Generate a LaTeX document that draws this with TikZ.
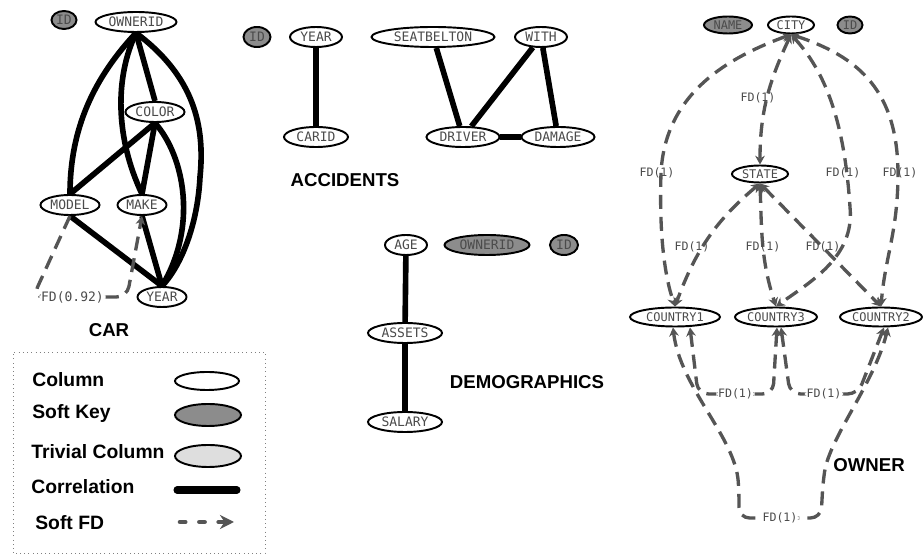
\documentclass[tikz,border=0pt]{standalone}
\usepackage{fontspec}
\setsansfont{Liberation Sans}
\newfontfamily\colfont{DejaVu Sans Mono}
\usetikzlibrary{shapes.geometric,arrows.meta}

\definecolor{keygray}{RGB}{140,140,140}
\definecolor{trivgray}{RGB}{222,222,222}
\definecolor{fdgray}{RGB}{85,85,85}
\definecolor{txtgray}{RGB}{75,75,75}

\begin{document}
\begin{tikzpicture}[
    column/.style={ellipse, draw=black, line width=1.1pt, fill=white, inner sep=0pt,
        minimum height=0.40cm, text=txtgray, font=\colfont\fontsize{7.4}{8}\selectfont},
    softkey/.style={column, fill=keygray},
    small/.style={font=\colfont\fontsize{6.8}{8}\selectfont, minimum height=0.34cm},
    corr/.style={line width=3.2pt},
    fd/.style={draw=fdgray, line width=1.9pt, dash pattern=on 8pt off 4.5pt,
        >={Stealth[length=5pt,width=5.5pt]}},
    fdlabel/.style={text=txtgray, font=\colfont\fontsize{6.6}{8}\selectfont, inner sep=1pt},
    title/.style={font=\sffamily\bfseries\fontsize{10.6}{12}\selectfont},
    legend/.style={font=\sffamily\bfseries\fontsize{11}{13}\selectfont, anchor=west, inner sep=0pt}
]
    \useasboundingbox (0,0) rectangle (18.46,11.14);

    % CAR
    \begin{scope}
        \node[softkey, minimum width=0.50cm, minimum height=0.36cm] (carid) at (1.28,10.74) {ID};
        \node[column, minimum width=1.62cm] (carowner) at (2.72,10.70) {OWNERID};
        \node[column, minimum width=1.18cm] (carcolor) at (3.10,8.90) {COLOR};
        \node[column, minimum width=1.18cm] (carmodel) at (1.40,7.04) {MODEL};
        \node[column, minimum width=0.98cm] (carmake) at (2.84,7.04) {MAKE};
        \node[column, minimum width=0.98cm] (caryear) at (3.24,5.20) {YEAR};
        \node[title] (cartitle) at (2.18,4.54) {CAR};

        \draw[corr] (carowner.south) .. controls (1.9,9.6) and (1.4,8.6) .. (carmodel.north);
        \draw[corr] (carowner.south) .. controls (2.3,9.6) and (2.3,8.4) .. (carmake.north);
        \draw[corr] (carowner.south) -- (carcolor.north);
        \draw[corr] (carowner.south) .. controls (3.9,9.6) and (4.1,8.6) .. (4.0,7.6)
            .. controls (3.95,6.6) and (3.6,5.8) .. (caryear.north);
        \draw[corr] (carcolor.south) -- (carmodel.north);
        \draw[corr] (carcolor.south) -- (carmake.north);
        \draw[corr] (carcolor.south) .. controls (3.7,8.0) and (3.95,6.6) .. (caryear.north);
        \draw[corr] (carmodel.south) -- (caryear.north);
        \draw[corr] (carmake.south) -- (caryear.north);

        \draw[fd, ->, rounded corners=6pt] (carmodel.south) -- (0.66,5.20)
            -- node[fdlabel, pos=0.42, fill=white, font=\colfont\fontsize{7.4}{8}\selectfont] (carfd) {FD(0.92)} (2.54,5.20)
            -- (carmake.south);
    \end{scope}

    % ACCIDENTS
    \begin{scope}
        \node[softkey, minimum width=0.54cm] (accid) at (5.14,10.40) {ID};
        \node[column, minimum width=1.04cm] (accyear) at (6.32,10.40) {YEAR};
        \node[column, minimum width=1.28cm] (acccarid) at (6.32,8.40) {CARID};
        \node[column, minimum width=2.46cm] (accbelt) at (8.66,10.40) {SEATBELTON};
        \node[column, minimum width=1.04cm] (accwith) at (10.82,10.40) {WITH};
        \node[column, minimum width=1.46cm] (accdriver) at (9.26,8.40) {DRIVER};
        \node[column, minimum width=1.46cm] (accdamage) at (11.16,8.40) {DAMAGE};
        \node[title] (acctitle) at (6.90,7.54) {ACCIDENTS};

        \draw[corr] (accyear) -- (acccarid);
        \draw[corr] (accbelt) -- (accdriver);
        \draw[corr] (accdriver) -- (accwith);
        \draw[corr] (accwith) -- (accdamage);
        \draw[corr] (accdriver) -- (accdamage);
    \end{scope}

    % DEMOGRAPHICS
    \begin{scope}
        \node[column, minimum width=0.84cm] (demage) at (8.12,6.24) {AGE};
        \node[softkey, minimum width=1.70cm] (demowner) at (9.74,6.24) {OWNERID};
        \node[softkey, minimum width=0.56cm] (demid) at (11.28,6.24) {ID};
        \node[column, minimum width=1.48cm] (demassets) at (8.10,4.48) {ASSETS};
        \node[column, minimum width=1.48cm] (demsalary) at (8.10,2.70) {SALARY};
        \node[title] (demtitle) at (10.54,3.50) {DEMOGRAPHICS};

        \draw[corr] (demage) -- (demassets);
        \draw[corr] (demassets) -- (demsalary);
    \end{scope}

    % OWNER
    \begin{scope}
        \node[softkey, small, minimum width=0.96cm] (ownname) at (14.56,10.64) {NAME};
        \node[column, small, minimum width=0.92cm] (owncity) at (15.82,10.64) {CITY};
        \node[softkey, small, minimum width=0.50cm] (ownid) at (17.00,10.64) {ID};
        \node[column, small, minimum width=1.12cm] (ownstate) at (15.20,7.66) {STATE};
        \node[column, small, minimum width=1.80cm, minimum height=0.38cm] (owncountry1) at (13.50,4.80) {COUNTRY1};
        \node[column, small, minimum width=1.64cm, minimum height=0.38cm] (owncountry3) at (15.52,4.80) {COUNTRY3};
        \node[column, small, minimum width=1.64cm, minimum height=0.38cm] (owncountry2) at (17.62,4.80) {COUNTRY2};
        \node[title] (owntitle) at (17.38,1.84) {OWNER};

        \draw[fd, <->] (owncity.south) to[out=-115, in=90] (ownstate.north);
        \draw[fd, <->] (owncity.south) .. controls (14.6,10.0) and (13.3,9.3) .. (13.22,7.68)
            .. controls (13.18,6.4) and (13.3,5.6) .. (owncountry1.north);
        \draw[fd, <->] (owncity.south) .. controls (16.6,9.6) and (16.9,8.5) .. (17.0,7.0)
            .. controls (17.1,6.0) and (16.2,5.5) .. (owncountry3.north);
        \draw[fd, <->] (owncity.south) .. controls (17.2,10.0) and (17.95,9.3) .. (17.96,7.68)
            .. controls (17.96,6.5) and (17.7,6.0) .. (owncountry2.north);
        \node[fdlabel] (fdcitystate) at (15.16,9.18) {FD(1)};
        \node[fdlabel] (fdcity1) at (13.14,7.68) {FD(1)};
        \node[fdlabel] (fdcity3) at (16.86,7.68) {FD(1)};
        \node[fdlabel] (fdcity2) at (18.00,7.68) {FD(1)};

        \draw[fd, <->] (ownstate.south) to[out=-140, in=70] (owncountry1.north);
        \draw[fd, <->] (ownstate.south) to[out=-88, in=108] (owncountry3.north);
        \draw[fd, <->] (ownstate.south) -- (owncountry2.north);
        \node[fdlabel] (fdstate1) at (13.84,6.20) {FD(1)};
        \node[fdlabel] (fdstate3) at (15.26,6.20) {FD(1)};
        \node[fdlabel] (fdstate2) at (16.46,6.20) {FD(1)};

        \draw[fd, <->, rounded corners=6pt] ([xshift=0.30cm]owncountry1.south) -- (13.96,3.26)
            -- node[fdlabel, fill=white] (fd13) {FD(1)} (15.46,3.26)
            -- ([xshift=0.02cm]owncountry3.south);
        \draw[fd, <->, rounded corners=6pt] ([xshift=0.10cm]owncountry3.south) -- (15.80,3.26)
            -- node[fdlabel, fill=white] (fd32) {FD(1)} (17.16,3.26)
            -- ([xshift=0.06cm]owncountry2.south);
        \draw[fd, <->, rounded corners=6pt] ([xshift=-0.04cm]owncountry1.south)
            .. controls (13.6,3.4) and (14.7,2.4) .. (14.78,1.3) -- (14.78,0.78)
            -- node[fdlabel, fill=white] (fd12) {FD(1)} (16.42,0.78) -- (16.46,1.5)
            .. controls (16.6,2.4) and (17.5,3.5) .. ([xshift=0.14cm]owncountry2.south);
    \end{scope}

    % legend
    \begin{scope}
        \draw[gray, dotted] (0.26,0.08) rectangle (5.30,4.10);

        \node[legend] (legcol) at (0.64,3.54) {Column};
        \node[column, minimum width=1.28cm, minimum height=0.36cm] (legcolshape) at (4.14,3.52) {};
        \node[legend] (legkey) at (0.64,2.86) {Soft Key};
        \node[softkey, minimum width=1.32cm, minimum height=0.44cm] (legkeyshape) at (4.16,2.84) {};
        \node[legend] (legtriv) at (0.62,2.10) {Trivial Column};
        \node[column, fill=trivgray, minimum width=1.32cm, minimum height=0.44cm] (legtrivshape) at (4.16,2.02) {};
        \node[legend] (legcorr) at (0.62,1.40) {Correlation};
        \coordinate (legcorra) at (3.54,1.34);
        \coordinate (legcorrb) at (4.74,1.34);
        \draw[line width=4pt, line cap=round] (legcorra) -- (legcorrb);
        \node[legend] (legfd) at (0.70,0.68) {Soft FD};
        \coordinate (legfda) at (3.60,0.70);
        \coordinate (legfdb) at (4.68,0.70);
        \draw[fd, line width=2.6pt, line cap=round, dash pattern=on 3pt off 8pt,
            -{Stealth[length=8pt,width=8pt]}] (legfda) -- (legfdb);
    \end{scope}
\end{tikzpicture}
\end{document}
